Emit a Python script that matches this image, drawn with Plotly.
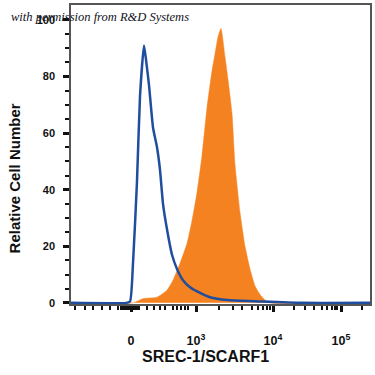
import plotly.graph_objects as go

# Display channel positions (logicle-like display scale) for tick labels
tick_channels = [60, 125, 202, 270]
tick_labels = ["0", "10<sup>3</sup>", "10<sup>4</sup>", "10<sup>5</sup>"]
minor_channels = [
    -6, 4, 14, 22, 31, 39, 47, 50, 52, 54, 56, 58, 62, 64, 66, 68,
    76, 83, 89, 94, 102, 106, 110, 114, 117,
    148, 162, 171, 181, 187, 192, 196, 199,
    223, 234, 243, 251, 256, 261, 264, 266, 291,
]

# Isotype control (blue outline)
iso_x = [0, 55, 59, 62, 66, 69, 73, 75, 78, 82, 86, 89, 92, 96, 101, 106, 112, 119, 129, 139, 156, 190, 230, 299]
iso_y = [0, 0, 0.5, 14, 43, 73, 91, 86, 77, 62, 55, 47, 35, 26, 17, 12, 8, 5.5, 3.5, 2, 1, 0.5, 0, 0]

# SREC-1/SCARF1 stained (orange filled)
stain_x = [0, 62, 72, 86, 96, 102, 109, 116, 121, 126, 131, 136, 141, 144, 147, 150,
           154, 157, 161, 164, 169, 174, 179, 184, 189, 194, 199, 299]
stain_y = [0, 0, 1.5, 2, 4.5, 8, 14, 21, 29, 39, 52, 69, 82, 88, 94, 97,
           87, 79, 67, 49, 32, 20, 12, 6, 3, 1, 0, 0]

y_ticks = [0, 20, 40, 60, 80, 100]
y_minor = [5, 10, 15, 25, 30, 35, 45, 50, 55, 65, 70, 75, 85, 90, 95]

fig = go.Figure()
fig.add_trace(go.Scatter(
    x=stain_x, y=stain_y, mode="lines", fill="tozeroy",
    line=dict(color="#F58220", width=0.5, shape="spline", smoothing=0.5),
    fillcolor="#F58220", hoverinfo="skip", showlegend=False,
))
fig.add_trace(go.Scatter(
    x=iso_x, y=iso_y, mode="lines",
    line=dict(color="#1F4E9E", width=2.5, shape="spline", smoothing=0.5),
    hoverinfo="skip", showlegend=False,
))

font_bold = "Liberation Sans, Arial, sans-serif"

fig.update_layout(
    width=375, height=375,
    margin=dict(l=71, r=5, t=5, b=71),
    paper_bgcolor="white", plot_bgcolor="white",
    xaxis=dict(
        range=[0, 299], showgrid=False, zeroline=False, automargin=False,
        showline=True, linecolor="#555", linewidth=1.5, mirror=True,
        tickmode="array", tickvals=tick_channels, ticktext=tick_labels,
        ticks="outside", ticklen=6, tickwidth=3, tickcolor="#111",
        ticklabelstandoff=18,
        tickfont=dict(family=font_bold, size=12.5, color="#111", weight="bold"),
        minor=dict(tickmode="array", tickvals=minor_channels, ticks="outside",
                   ticklen=4, tickwidth=1.5, tickcolor="#111"),
    ),
    yaxis=dict(
        range=[-0.4, 105.3], showgrid=False, zeroline=False, automargin=False,
        showline=True, linecolor="#555", linewidth=1.5, mirror=True,
        tickmode="array", tickvals=y_ticks,
        ticks="outside", ticklen=6, tickwidth=3, tickcolor="#111",
        ticklabelstandoff=6,
        tickfont=dict(family=font_bold, size=11, color="#111", weight="bold"),
        minor=dict(tickmode="array", tickvals=y_minor,
                   ticks="outside", ticklen=4, tickwidth=1.5, tickcolor="#111"),
    ),
)

# Axis titles
fig.add_annotation(
    text="<b>SREC-1/SCARF1</b>", xref="paper", yref="paper",
    x=0.45, y=0, yshift=-52, xanchor="center", yanchor="middle", showarrow=False,
    font=dict(family=font_bold, size=16, color="#111"),
)
fig.add_annotation(
    text="<b>Relative Cell Number</b>", xref="paper", yref="paper",
    x=0, xshift=-57, y=0.42, xanchor="center", yanchor="middle", textangle=-90,
    showarrow=False, font=dict(family=font_bold, size=15, color="#111"),
)

fig.add_annotation(
    text="<i>with permission from R&amp;D Systems</i>",
    xref="paper", yref="paper", x=0, xshift=-62, y=1.0, xanchor="left", yanchor="top",
    yshift=-3, showarrow=False,
    font=dict(family="Liberation Serif, serif", size=12.5, color="#111122"),
)

fig.write_html("out.html", config={"displayModeBar": False},
               post_script="document.body.style.margin='0';")
